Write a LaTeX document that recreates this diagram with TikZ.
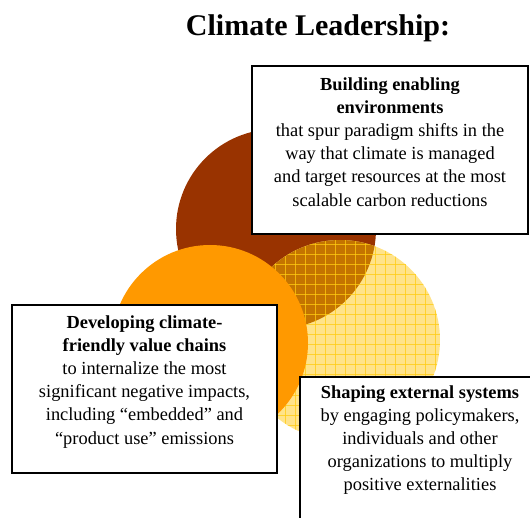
\documentclass[tikz,border=0pt]{standalone}
\usepackage{fontspec}
\setmainfont{Liberation Serif}
\usepackage{xcolor}
\usetikzlibrary{positioning}
\definecolor{Rust}{HTML}{993300}
\definecolor{Amber}{HTML}{FF9900}
\definecolor{Straw}{HTML}{FFE38A}
\definecolor{StrawLine}{HTML}{FFCC11}
\definecolor{Blend}{HTML}{C47400}

\begin{document}
\begin{tikzpicture}[x=1pt, y=-1pt,
        panel/.style={draw=black, line width=1.6pt, fill=white, inner sep=0pt},
        paneltext/.style={align=center, inner sep=0pt, font=\fontsize{18.4}{23.2}\selectfont}]
        \useasboundingbox (0, 0) rectangle (530, 518);
        \clip (0, 0) rectangle (530, 518);

        \node (title) at (318, 28)[font=\fontsize{30}{33}\selectfont\bfseries] {Climate Leadership:};

        \fill[Rust] (276, 229) circle (100pt);
        \fill[Straw] (340, 340) circle (100pt);
        \begin{scope}
            \clip (276, 229) circle (100pt);
            \fill[Blend] (340, 340) circle (100pt);
        \end{scope}
        \begin{scope}
            \clip (340, 340) circle (100pt);
            \foreach \g in {235, 245, ..., 445} {
                \draw[StrawLine, line width=1pt, opacity=0.75] (\g, 230) -- (\g, 450);
                \draw[StrawLine, line width=1pt, opacity=0.75] (230, \g) -- (450, \g);
            }
        \end{scope}
        \fill[Amber] (210, 343) circle (98pt);

        \node (buildbox) at (390, 150)[panel, minimum width=276pt, minimum height=168pt] {};
        \node (buildtext) [below=12pt of buildbox.north, paneltext] {\textbf{Building enabling}\\ \textbf{environments}\\ that spur paradigm shifts in the\\ way that climate is managed\\ and target resources at the most\\ scalable carbon reductions};

        \node (valuebox) at (144.5, 389)[panel, minimum width=265pt, minimum height=168pt] {};
        \node (valuetext) [below=11pt of valuebox.north, paneltext] {\textbf{Developing climate-}\\ \textbf{friendly value chains}\\ to internalize the most\\ significant negative impacts,\\ including ``embedded'' and\\ ``product use'' emissions};

        \node (shapebox) at (420, 460)[panel, minimum width=240pt, minimum height=166pt] {};
        \node (shapetext) [below=9pt of shapebox.north, paneltext] {\textbf{Shaping external systems}\\ by engaging policymakers,\\ individuals and other\\ organizations to multiply\\ positive externalities};
    \end{tikzpicture}
\end{document}
